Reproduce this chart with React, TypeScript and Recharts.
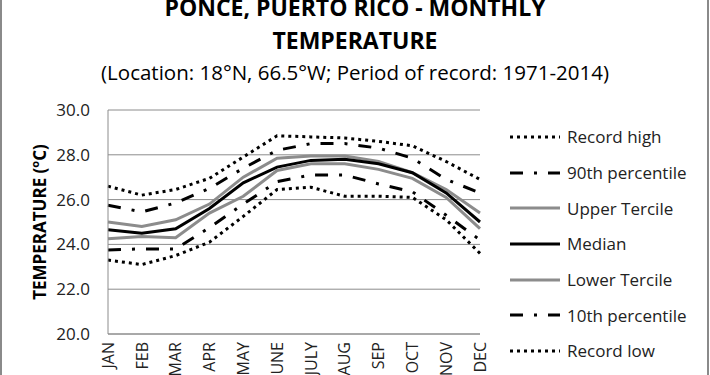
import React from 'react';
import { LineChart, Line, XAxis, YAxis, CartesianGrid, Legend } from 'recharts';

const months = ['JAN', 'FEB', 'MAR', 'APR', 'MAY', 'JUNE', 'JULY', 'AUG', 'SEP', 'OCT', 'NOV', 'DEC'];

const recordHigh = [26.6, 26.2, 26.45, 26.95, 27.9, 28.85, 28.8, 28.75, 28.6, 28.4, 27.7, 26.9];
const p90 = [25.75, 25.45, 25.85, 26.5, 27.4, 28.2, 28.5, 28.5, 28.3, 27.85, 26.9, 26.3];
const upperTercile = [25.0, 24.8, 25.1, 25.8, 27.0, 27.85, 27.95, 27.95, 27.7, 27.2, 26.45, 25.4];
const median = [24.65, 24.5, 24.7, 25.6, 26.75, 27.45, 27.75, 27.8, 27.6, 27.2, 26.3, 25.0];
const lowerTercile = [24.25, 24.35, 24.3, 25.4, 26.15, 27.3, 27.6, 27.6, 27.35, 26.95, 26.1, 24.7];
const p10 = [23.75, 23.8, 23.8, 24.75, 25.8, 26.8, 27.1, 27.1, 26.7, 26.35, 25.3, 24.2];
const recordLow = [23.3, 23.1, 23.5, 24.1, 25.25, 26.45, 26.55, 26.15, 26.15, 26.1, 25.1, 23.6];

const yTicks = [20, 22, 24, 26, 28, 30];

const FONT = '"Open Sans", sans-serif';
const GRAY = '#8c8c8c';
const DOT = '3 4';
const DASH_DOT = '13 11 3 11';

const series = [
  { key: 'high', name: 'Record high', values: recordHigh, color: '#000', dash: DOT },
  { key: 'p90', name: '90th percentile', values: p90, color: '#000', dash: DASH_DOT },
  { key: 'upper', name: 'Upper Tercile', values: upperTercile, color: GRAY, dash: undefined },
  { key: 'median', name: 'Median', values: median, color: '#000', dash: undefined },
  { key: 'lower', name: 'Lower Tercile', values: lowerTercile, color: GRAY, dash: undefined },
  { key: 'p10', name: '10th percentile', values: p10, color: '#000', dash: DASH_DOT },
  { key: 'low', name: 'Record low', values: recordLow, color: '#000', dash: DOT },
];

const data = months.map((m, i) => {
  const row: Record<string, string | number> = { month: m };
  series.forEach(s => { row[s.key] = s.values[i]; });
  return row;
});

const MonthTick = (props: any) => {
  const { x, payload } = props;
  return (
    <text
      x={x}
      y={342}
      transform={`rotate(-90, ${x}, 342)`}
      textAnchor="end"
      dy="0.36em"
      fontSize={16}
      fontFamily={FONT}
      fill="#222"
    >
      {payload.value}
    </text>
  );
};

const YLabel = () => (
  <text
    x={40}
    y={222}
    transform="rotate(-90, 40, 222)"
    textAnchor="middle"
    dy="0.36em"
    fontSize={17}
    fontWeight="bold"
    fontFamily={FONT}
    fill="#000"
  >
    TEMPERATURE (<tspan dy="-7" fontSize={11}>o</tspan><tspan dy="7">C)</tspan>
  </text>
);

const LegendBox = () => (
  <div style={{ fontFamily: FONT, fontSize: 17, color: '#222' }}>
    {series.map(s => (
      <div key={s.key} style={{ display: 'flex', alignItems: 'center', height: 35.7 }}>
        <svg width={62} height={10}>
          <line x1={5} x2={55} y1={5} y2={5} stroke={s.color} strokeWidth={3} strokeDasharray={s.dash} />
        </svg>
        <span>{s.name}</span>
      </div>
    ))}
  </div>
);

export default function App() {
  return (
    <div style={{ position: 'fixed', left: 0, top: 0, width: 710, height: 375, background: '#fff', overflow: 'hidden' }}>
      <div style={{ position: 'absolute', left: 0, top: 0, width: 2, height: 375, background: '#8a8a8a' }} />
      <div style={{ position: 'absolute', left: 707, top: 0, width: 2, height: 375, background: '#8a8a8a' }} />
      <div style={{ position: 'absolute', left: 0, width: 710, top: -9, textAlign: 'center', fontFamily: FONT, fontWeight: 'bold', fontSize: 23, lineHeight: '33px', color: '#000' }}>
        PONCE, PUERTO RICO - MONTHLY<br />TEMPERATURE
      </div>
      <div style={{ position: 'absolute', left: 0, width: 710, top: 58, textAlign: 'center', fontFamily: FONT, fontSize: 20.5, lineHeight: '28px', color: '#000' }}>
        (Location: 18°N, 66.5°W; Period of record: 1971-2014)
      </div>
      <LineChart
        width={710}
        height={375}
        data={data}
        margin={{ top: 110, right: 230, left: 0, bottom: 0 }}
        style={{ position: 'absolute', left: 0, top: 0 }}
      >
        <CartesianGrid vertical={false} stroke={GRAY} strokeWidth={1} />
        <XAxis
          dataKey="month"
          height={41}
          interval={0}
          axisLine={{ stroke: GRAY }}
          tickLine={false}
          tick={<MonthTick />}
        />
        <YAxis
          width={108}
          domain={[20, 30]}
          ticks={yTicks}
          tickFormatter={(v: number) => v.toFixed(1)}
          axisLine={{ stroke: GRAY }}
          tickLine={false}
          tickSize={0}
          tickMargin={18}
          tick={{ fontSize: 17, fontFamily: FONT, fill: '#222' }}
          label={<YLabel />}
        />
        {series.map(s => (
          <Line
            key={s.key}
            dataKey={s.key}
            name={s.name}
            stroke={s.color}
            strokeWidth={3}
            strokeDasharray={s.dash}
            dot={false}
            activeDot={false}
            isAnimationActive={false}
          />
        ))}
        <Legend
          layout="vertical"
          align="center"
          verticalAlign="middle"
          content={<LegendBox />}
          wrapperStyle={{ left: 505, top: 119, width: 205 }}
        />
      </LineChart>
    </div>
  );
}
